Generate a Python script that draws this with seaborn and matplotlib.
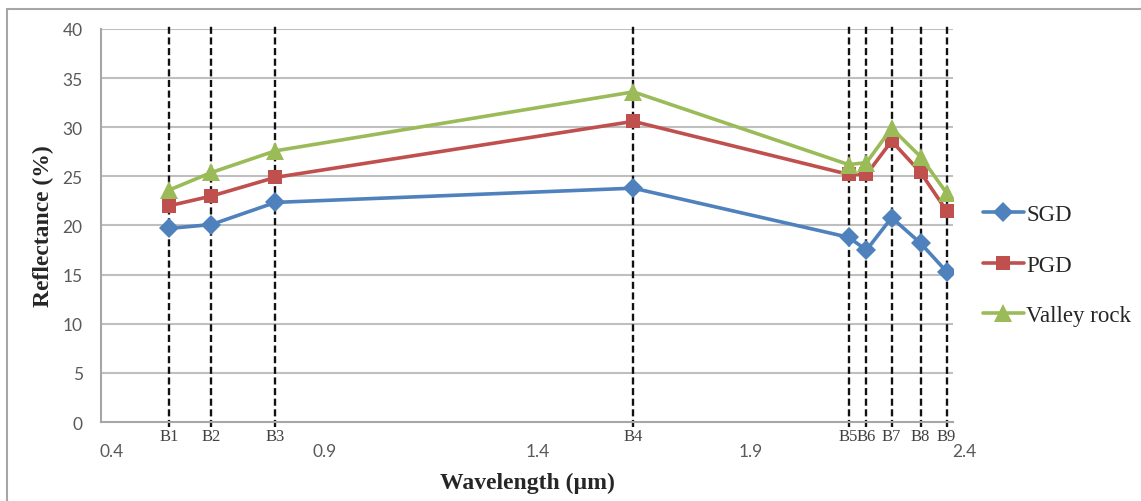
import numpy as np
import pandas as pd
import matplotlib
matplotlib.use("Agg")
import matplotlib.pyplot as plt
import matplotlib.transforms as mtransforms
from matplotlib.patches import Rectangle
import seaborn as sns

# ---- data ----
bands = ["B1", "B2", "B3", "B4", "B5", "B6", "B7", "B8", "B9"]
wavelengths = [0.56, 0.66, 0.81, 1.65, 2.155, 2.197, 2.256, 2.324, 2.385]
sgd = [19.7, 20.1, 22.35, 23.8, 18.8, 17.5, 20.8, 18.2, 15.3]
pgd = [22.0, 23.0, 24.9, 30.6, 25.2, 25.2, 28.6, 25.4, 21.5]
valley = [23.6, 25.4, 27.6, 33.6, 26.2, 26.4, 29.9, 27.0, 23.3]
series_names = ["SGD", "PGD", "Valley rock"]
x_ticks = [0.4, 0.9, 1.4, 1.9, 2.4]
y_ticks = [0, 5, 10, 15, 20, 25, 30, 35, 40]

df = pd.DataFrame({
    "Wavelength": wavelengths * 3,
    "Reflectance": sgd + pgd + valley,
    "Series": [s for s in series_names for _ in wavelengths],
})

palette = {"SGD": "#4F81BD", "PGD": "#C0504D", "Valley rock": "#9BBB59"}
markers = {"SGD": "D", "PGD": "s", "Valley rock": "^"}

sns.set_style("white")
plt.rcParams["font.family"] = ["DejaVu Sans"]

W, H = 1141, 502
fig = plt.figure(figsize=(W / 100, H / 100), dpi=100)
ax = fig.add_axes([100.7 / W, 1 - 423 / H, (953 - 100.7) / W, (423 - 30) / H])

# outer chart frame
fig.patches.append(Rectangle((7 / W, -0.05), 1.2, 1 - 10 / H + 0.05, transform=fig.transFigure,
                             fill=False, edgecolor="#A6A6A6", linewidth=1.5, zorder=0))

# grid
ax.set_ylim(0, 40)
ax.set_xlim(0.4, 2.4)
ax.set_yticks(y_ticks)
for yv in y_ticks[1:]:
    ax.axhline(yv, color="#BFBFBF", lw=1.5, zorder=1)

# dashed band lines
ax.vlines(wavelengths, -0.013, 1.008, transform=ax.get_xaxis_transform(),
          colors="#111111", linestyles=(0, (3, 1.5)), lw=1.7, clip_on=False, zorder=2)

sns.lineplot(data=df, x="Wavelength", y="Reflectance", hue="Series", style="Series",
             palette=palette, markers=markers, dashes=False, hue_order=series_names,
             lw=2.6, markersize=10.5, markeredgewidth=0, ax=ax, zorder=3, legend=True)
for ln in ax.lines:
    if ln.get_marker() == "^":
        ln.set_markersize(12.5)

# spines
for s in ["top", "right"]:
    ax.spines[s].set_visible(False)
for s in ["left", "bottom"]:
    ax.spines[s].set_color("#A6A6A6")
    ax.spines[s].set_linewidth(1.5)

# y ticks
ax.tick_params(axis="y", length=0, pad=13, labelsize=12.5, labelcolor="#595959")
for lab in ax.get_yticklabels():
    lab.set_fontfamily("Lato")

# x major ticks (numeric)
ax.set_xticks(x_ticks)
ax.set_xticklabels([f"{v:.1f}" for v in x_ticks])
ax.tick_params(axis="x", which="major", length=0, pad=15, labelsize=12.5, labelcolor="#595959")
offset = mtransforms.ScaledTranslation(11 / 100, 0, fig.dpi_scale_trans)
for lab in ax.get_xticklabels():
    lab.set_fontfamily("Lato")
    lab.set_transform(lab.get_transform() + offset)

# x minor ticks (band names)
ax.set_xticks(wavelengths, minor=True)
ax.set_xticklabels(bands, minor=True)
ax.tick_params(axis="x", which="minor", length=0, pad=4, labelsize=12, labelcolor="#404040")
for lab in ax.get_xticklabels(minor=True):
    lab.set_fontfamily("Liberation Serif")

ax.set_xlabel("")
ax.set_ylabel("")
fig.text(527 / W, 1 - 483 / H, "Wavelength (µm)", ha="center", va="center",
         fontsize=17, fontweight="bold", family="Liberation Serif")
fig.text(43 / W, 1 - 226 / H, "Reflectance (%)", ha="center", va="center", rotation=90,
         fontsize=17, fontweight="bold", family="Liberation Serif")

# legend
handles, labels = ax.get_legend_handles_labels()
leg = ax.legend(handles, labels, loc="center left", bbox_to_anchor=(962 / W, 1 - 266 / H),
                bbox_transform=fig.transFigure, frameon=False,
                prop={"family": "Liberation Serif", "size": 16.5},
                handlelength=1.8, handletextpad=0.1, labelspacing=1.3)
for h in leg.legend_handles:
    h.set_linewidth(2.6)

fig.savefig("out.png", dpi=100)
